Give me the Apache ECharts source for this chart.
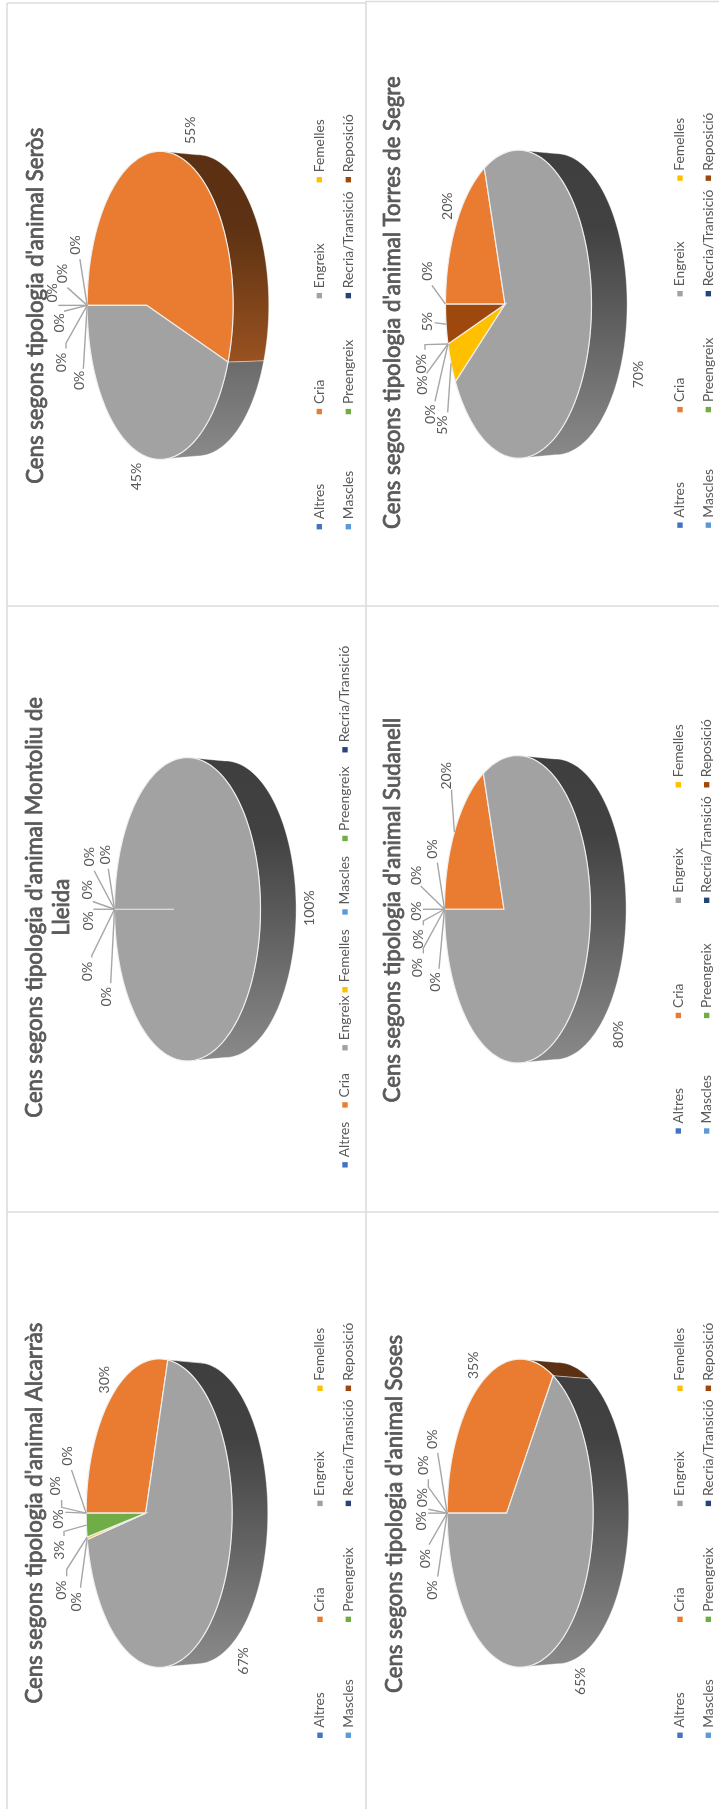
<!DOCTYPE html>
<html><head><meta charset="utf-8">
<style>html,body{margin:0;padding:0;background:#fff}#c{width:719px;height:1809px;filter:blur(0.45px)}</style>
<script src="https://cdn.jsdelivr.net/npm/echarts@6/dist/echarts.min.js"></script>
</head><body><div id="c"></div>
<script>
// ---------- data ----------
const categories = ['Altres','Cria','Engreix','Femelles','Mascles','Preengreix','Recria/Transició','Reposició'];
const categoriesMontoliu = ['Altres','Cria','Engreix','Femelles','Mascles','Preengreix','Recria/Transició'];
const colors = ['#4472C4','#E97C30','#A2A2A2','#FFC000','#5B9BD5','#70AD47','#264478','#9E480E'];
const valuesSeros    = [0,55,45,0,0,0,0,0];
const valuesTorres   = [0,20,70,5,0,0,0,5];
const valuesMontoliu = [0,0,100,0,0,0,0];
const valuesSudanell = [0,20,80,0,0,0,0,0];
const valuesAlcarras = [0,29.8,66.9,0.3,0,3,0,0];
const valuesSoses    = [0,35,65,0,0,0,0,0];

// ---------- layout (crop-space coordinates: x*1/3, y*0.389 from panel origin) ----------
const YS = 0.389;
const panels = [
 {name:"Cens segons tipologia d'animal Seròs", values:valuesSeros, cats:categories, ox:0,oy:0,
  apex:[440,785], hh:154, title:[[108,786]], legX:[958,1045], legY:[1354,1058,760,462],
  labels:[[225,630,240,668],[572,335],[408,1225],[238,978,250,948],[183,932,198,882],[178,830,192,800],[157,753,175,785],[187,703,203,740]]},
 {name:"Cens segons tipologia d'animal Torres de Segre", values:valuesTorres, cats:categories, ox:360,oy:0,
  apex:[435,782], hh:154, title:[[100,778]], legX:[960,1045], legY:[1350,1053,755,458],
  labels:[[203,697,217,735],[263,530],[835,963],[247,1093,263,1060],[212,1065,225,1032],[187,990,200,960],[183,935,195,886],[203,827,228,830]]},
 {name:"Cens segons tipologia d'animal Montoliu de|Lleida", values:valuesMontoliu, cats:categoriesMontoliu, ox:0,oy:600,
  apex:[522,795], hh:151.7, title:[[105,790],[187,790]], legX:[1035], legY:[1452,1298,1151,1002,802,613,385], oneCol:true,
  labels:[[315,655,325,692],[267,660,283,697],[927,792],[318,1020,332,985],[262,955,275,915],[265,825,280,795],[262,745,278,775]]},
 {name:"Cens segons tipologia d'animal Sudanell", values:valuesSudanell, cats:categories, ox:360,oy:600,
  apex:[432,795], hh:153.7, title:[[98,797]], legX:[955,1040], legY:[1365,1068,772,475],
  labels:[[218,640,232,675],[260,452,275,500],[775,1117],[225,982,237,948],[172,945,190,895],[175,872,190,825],[168,800,197,795],[168,708,182,735]]},
 {name:"Cens segons tipologia d'animal Alcarràs", values:valuesAlcarras, cats:categories, ox:0,oy:1200,
  apex:[437,805], hh:154.2, title:[[105,805]], legX:[960,1045], legY:[1376,1078,780,484],
  labels:[[203,658,215,695],[312,462],[730,1185],[228,1033,242,992],[185,1003,200,950],[178,900,192,852],[175,820,205,803],[167,735,185,790]]},
 {name:"Cens segons tipologia d'animal Soses", values:valuesSoses, cats:categories, ox:360,oy:1200,
  apex:[440,805], hh:154, title:[[105,807]], legX:[960,1045], legY:[1376,1078,780,484],
  labels:[[218,615,233,650],[340,425],[662,1237],[218,1003,233,968],[195,922,208,885],[183,825,205,805],[187,765,205,795],[190,682,205,738]]}
];
const K = 0.185, AX = 70.5, DEPTH = 37.5, SHRINK = 0.978, TEXT = '#595959', FONT = 'Lato';
const zx = (p,x)=>p.ox+x/3, zy = (p,y)=>p.oy+y*YS;

// projection of the disc: theta clockwise from the original 12 o'clock (image left)
function rim(p,theta,bottom){
  const u=Math.sin(theta), v=-Math.cos(theta), w=1-K*v;
  const ax=zx(p,p.apex[0]), ay=zy(p,p.apex[1]);
  const b=p.hh*Math.sqrt(1-K*K), s=bottom?SHRINK:1, d=bottom?DEPTH:0;
  return [ax+d+s*AX*v/w, ay-s*b*u/w];
}
function arcAngles(a0,a1){
  const out=[], n=Math.max(1,Math.ceil((a1-a0)/(Math.PI/90)));
  for(let i=0;i<=n;i++) out.push(a0+(a1-a0)*i/n);
  return out;
}
function scaleCol(hex,f){
  const n=parseInt(hex.slice(1),16), c=[n>>16,(n>>8)&255,n&255].map(x=>Math.round(x*f));
  return 'rgb('+c.join(',')+')';
}
function sliceAngles(p){
  const tot=p.values.reduce((a,b)=>a+b,0); let c=0;
  return p.values.map(v=>{const a0=c/tot*2*Math.PI; c+=v; return [a0,c/tot*2*Math.PI];});
}
const TA = Math.acos(-K);

function renderWall(p){ return function(params,api){
  const i=api.value(0), [a0,a1]=sliceAngles(p)[i];
  const lo=Math.max(a0,TA), hi=Math.min(a1,2*Math.PI-TA);
  if(hi<=lo) return null;
  const ang=arcAngles(lo,hi);
  const pts=ang.map(t=>rim(p,t,false)).concat(ang.slice().reverse().map(t=>rim(p,t,true)));
  const ay=zy(p,p.apex[1]), c=colors[i];
  return {type:'polygon',shape:{points:pts},style:{
    fill:{type:'linear',global:true,x:0,y:ay-p.hh,x2:0,y2:ay+p.hh,colorStops:[
      {offset:0,color:scaleCol(c,.39)},{offset:.25,color:scaleCol(c,.40)},{offset:1,color:scaleCol(c,.85)}]},
    stroke:'rgba(255,255,255,.55)',lineWidth:.7}};
};}
function renderTop(p){ return function(params,api){
  const i=api.value(0), [a0,a1]=sliceAngles(p)[i];
  if(a1-a0<=0) return null;
  const apex=[zx(p,p.apex[0]),zy(p,p.apex[1])];
  const pts=[apex].concat(arcAngles(a0,a1).map(t=>rim(p,t,false)));
  return {type:'polygon',shape:{points:pts},style:{fill:colors[i],stroke:'rgba(240,240,240,.95)',lineWidth:1.2}};
};}
function renderLabel(p){ return function(params,api){
  const i=api.value(0), l=p.labels[i], [a0,a1]=sliceAngles(p)[i];
  const lx=zx(p,l[0]), ly=zy(p,l[1]), kids=[];
  if(l.length>2){
    const m=(a0+a1)/2, s=rim(p,m,false), ex=zx(p,l[2]), ey=zy(p,l[3]);
    const px=Math.min(Math.max(ex,lx-7),lx+7), py=Math.min(Math.max(ey,ly-14),ly+14);
    kids.push({type:'polyline',shape:{points:[s,[ex,ey],[px,py]]},style:{fill:null,stroke:'#a6a6a6',lineWidth:1.4}});
  }
  kids.push({type:'text',x:lx,y:ly,rotation:Math.PI/2,style:{text:Math.round(api.value(1))+'%',
    font:'14px '+FONT,fill:TEXT,align:'center',verticalAlign:'middle'}});
  return {type:'group',children:kids};
};}

const series=[];
panels.forEach(p=>{
  const data=p.values.map((v,i)=>[i,v]);
  const base={type:'custom',coordinateSystem:'none',silent:true,animation:false,data,name:p.name.replace('|',' '),encode:{value:1}};
  series.push(Object.assign({},base,{z:1,renderItem:renderWall(p)}));
  series.push(Object.assign({},base,{z:2,renderItem:renderTop(p)}));
  series.push(Object.assign({},base,{z:3,renderItem:renderLabel(p)}));
});

const graphic=[];
[[7,3,7,1809],[366,1,366,1809],[7,3,366,3],[366,1.5,719,1.5],[7,606,719,606],[7,1212,719,1212]].forEach(l=>{
  graphic.push({type:'line',shape:{x1:l[0],y1:l[1],x2:l[2],y2:l[3]},style:{stroke:'#dcdcdc',lineWidth:1.6},z:0,silent:true});
});
panels.forEach(p=>{
  p.name.split('|').forEach((t,i)=>{
    graphic.push({type:'text',x:zx(p,p.title[i][0]),y:zy(p,p.title[i][1]),rotation:Math.PI/2,silent:true,
      style:{text:t,font:'22.2px '+FONT,fill:TEXT,stroke:TEXT,lineWidth:.8,align:'center',verticalAlign:'middle'}});
  });
  p.cats.forEach((c,i)=>{
    const cx=p.oneCol?p.legX[0]:p.legX[Math.floor(i/4)];
    const my=p.oneCol?p.legY[i]:p.legY[i%4];
    const x=zx(p,cx), y=zy(p,my);
    graphic.push({type:'rect',shape:{x:x-2.7,y:y-2.7,width:5.4,height:5.4},style:{fill:colors[i]},silent:true});
    graphic.push({type:'text',x:x,y:y-7.5,rotation:Math.PI/2,silent:true,
      style:{text:c,font:'13.8px '+FONT,fill:TEXT,align:'left',verticalAlign:'middle'}});
  });
});

const chart=echarts.init(document.getElementById('c'),null,{renderer:'canvas',width:719,height:1809});
chart.setOption({animation:false,backgroundColor:'#fff',series,graphic});
</script></body></html>
